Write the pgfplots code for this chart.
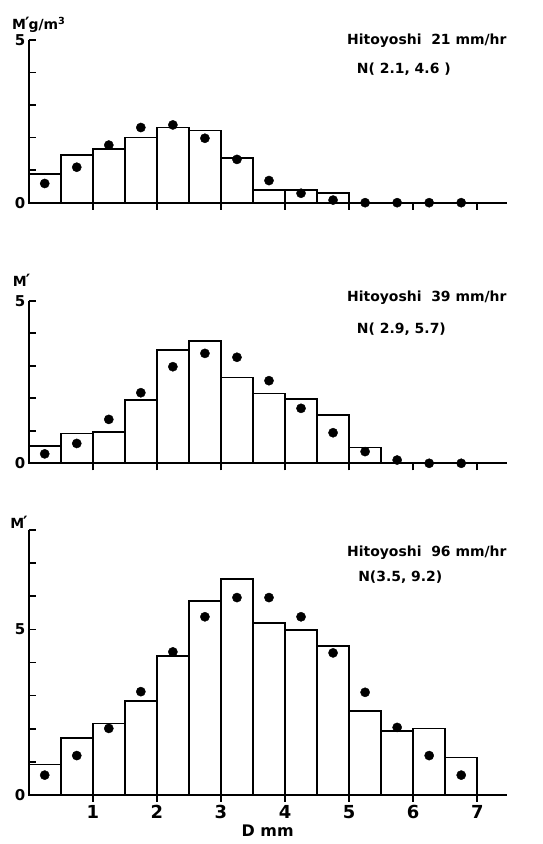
\documentclass[border=0pt]{standalone}
\usepackage{fontspec}
\setmainfont{DejaVu Sans}
\usepackage{pgfplots}
\pgfplotsset{compat=1.18}
\tikzset{lab/.style={font=\bfseries\fontsize{14}{17}\selectfont, inner sep=0pt}}
\newcommand{\Mp}{M\kern-1pt{\fontsize{17}{17}\selectfont\char"2032}}
\pgfplotsset{
  panel/.style={
    scale only axis, width=478bp, xmin=0, xmax=7.46, ymin=0,
    axis x line*=bottom, axis y line*=left,
    axis line style={-, line width=2.2bp},
    xtick={1,...,7}, xticklabels={},
    x tick style={line width=1.7bp, black}, y tick style={line width=1.7bp, black},
    xtick align=outside, ytick align=inside,
    major tick length=7bp,
    /pgf/number format/assume math mode=true,
    ticklabel style={font=\bfseries\fontsize{15}{15}\selectfont},
    clip=false,
    anchor=south west,
  },
  bars/.style={ybar interval, fill=white, draw=black, line width=1.7bp},
  dots/.style={only marks, mark=*, mark size=4.6bp, black},
}
\begin{document}
\begin{tikzpicture}[x=1bp,y=1bp]
\useasboundingbox (0,0) rectangle (543,844);
% ---------- Panel 1 ----------
\begin{axis}[panel, at={(28.7bp,641.3bp)}, height=162.7bp, ymax=5,
  ytick={0,...,5}, yticklabels={0,,,,,5}]
\addplot[bars] coordinates {(0,0.88) (0.5,1.47) (1,1.65) (1.5,2.0) (2,2.31) (2.5,2.22) (3,1.38) (3.5,0.40) (4,0.39) (4.5,0.29) (5,0)};
\addplot[dots] coordinates {(0.25,0.59) (0.75,1.09) (1.25,1.77) (1.75,2.31) (2.25,2.39) (2.75,1.98) (3.25,1.33) (3.75,0.68) (4.25,0.29) (4.75,0.08) (5.25,0) (5.75,0) (6.25,0) (6.75,0)};
\node[lab, anchor=base east] at (axis cs:7.46,4.85) {Hitoyoshi\ \ 21 mm/hr};
\node[lab, anchor=base west] at (axis cs:5.12,3.98) {N( 2.1, 4.6 )};
\node[lab, anchor=base west] at (axis cs:-0.26,5.33) {\Mp\kern-1pt g/m\textsuperscript{3}};
\end{axis}
% ---------- Panel 2 ----------
\begin{axis}[panel, at={(28.7bp,380.7bp)}, height=162.6bp, ymax=5,
  ytick={0,...,5}, yticklabels={0,,,,,5}]
\addplot[bars] coordinates {(0,0.54) (0.5,0.92) (1,0.97) (1.5,1.95) (2,3.48) (2.5,3.76) (3,2.64) (3.5,2.15) (4,1.97) (4.5,1.49) (5,0.49) (5.5,0)};
\addplot[dots] coordinates {(0.25,0.29) (0.75,0.61) (1.25,1.35) (1.75,2.17) (2.25,2.97) (2.75,3.38) (3.25,3.26) (3.75,2.54) (4.25,1.69) (4.75,0.94) (5.25,0.36) (5.75,0.10) (6.25,0) (6.75,0)};
\node[lab, anchor=base east] at (axis cs:7.46,4.96) {Hitoyoshi\ \ 39 mm/hr};
\node[lab, anchor=base west] at (axis cs:5.12,4.0) {N( 2.9, 5.7)};
\node[lab, anchor=base west] at (axis cs:-0.25,5.45) {\Mp};
\end{axis}
% ---------- Panel 3 ----------
\begin{axis}[panel, at={(28.7bp,49bp)}, height=265bp, ymax=8,
  ytick={0,...,8}, yticklabels={0,,,,,5,,,},
  xticklabels={1,2,3,4,5,6,7},
  xticklabel style={font=\bfseries\fontsize{18}{18}\selectfont},
  xlabel={D mm}, xlabel style={font=\bfseries\fontsize{16}{16}\selectfont, inner sep=0pt, yshift=-2bp}]
\addplot[bars] coordinates {(0,0.92) (0.5,1.73) (1,2.16) (1.5,2.84) (2,4.19) (2.5,5.85) (3,6.53) (3.5,5.2) (4,4.99) (4.5,4.5) (5,2.53) (5.5,1.94) (6,2.01) (6.5,1.13) (7,0)};
\addplot[dots] coordinates {(0.25,0.60) (0.75,1.19) (1.25,2.01) (1.75,3.12) (2.25,4.32) (2.75,5.38) (3.25,5.96) (3.75,5.96) (4.25,5.38) (4.75,4.29) (5.25,3.10) (5.75,2.04) (6.25,1.19) (6.75,0.60)};
\node[lab, anchor=base east] at (axis cs:7.46,7.19) {Hitoyoshi\ \ 96 mm/hr};
\node[lab, anchor=base west] at (axis cs:5.14,6.46) {N(3.5, 9.2)};
\node[lab, anchor=base west] at (axis cs:-0.29,8.06) {\Mp};
\end{axis}
\end{tikzpicture}
\end{document}
